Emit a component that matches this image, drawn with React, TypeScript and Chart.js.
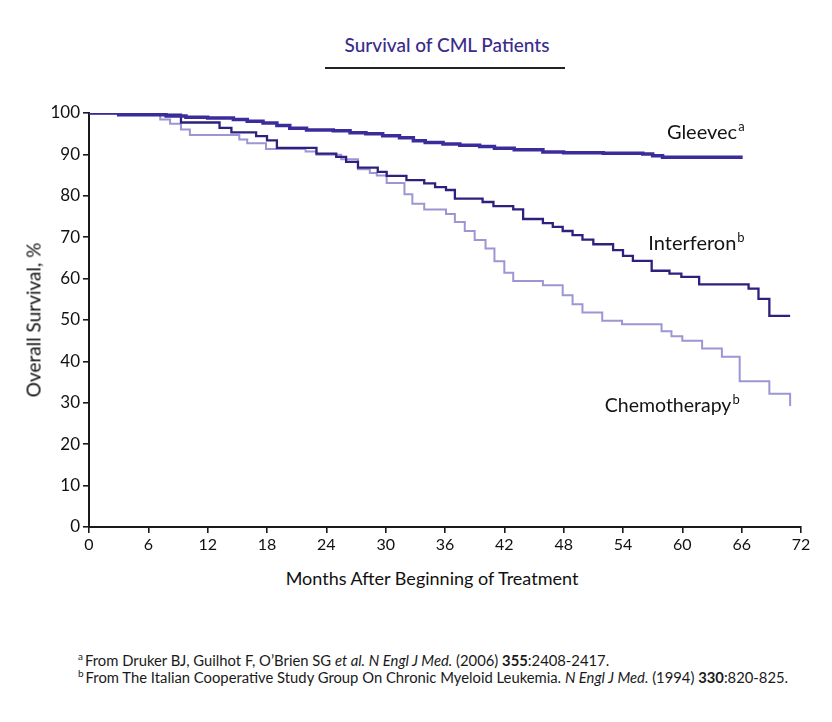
import React, { useEffect, useRef } from 'react';
import { Chart, registerables } from 'chart.js';

Chart.register(...registerables);

// ---- data ----
const chartTitle = 'Survival of CML Patients';
const xAxisTitle = 'Months After Beginning of Treatment';
const yAxisTitle = 'Overall Survival, %';
const xTickValues = [0, 6, 12, 18, 24, 30, 36, 42, 48, 54, 60, 66, 72];
const yTickValues = [0, 10, 20, 30, 40, 50, 60, 70, 80, 90, 100];
const seriesNames = ['Gleevec', 'Interferon', 'Chemotherapy'];
const seriesNotes = ['a', 'b', 'b'];

const gleevecMonths = [0, 3, 7.8, 9.8, 12, 14.6, 16, 17.6, 19, 20.3, 22, 24.7, 26.4, 28, 29.7, 31.4, 32.8, 34, 35.8, 37.5, 39.5, 41, 43, 45.9, 48, 52, 56, 57, 58, 66.1];
const gleevecSurvival = [100, 99.6, 99.3, 99.0, 98.8, 98.4, 98.0, 97.6, 97.0, 96.3, 95.9, 95.7, 95.2, 95.0, 94.5, 94.0, 93.3, 92.9, 92.5, 92.2, 91.9, 91.5, 91.1, 90.6, 90.4, 90.3, 90.1, 89.7, 89.3, 89.3];

const interferonMonths = [0, 3, 9.3, 13.2, 14.4, 16.9, 18, 19, 23, 25, 26, 27.2, 29.2, 30.1, 32.1, 33.9, 35, 36.1, 37, 39.8, 40.9, 42.9, 43.9, 45.9, 46.9, 47.9, 48.9, 49.9, 51, 53, 54, 55, 56.9, 58.7, 59.9, 61.7, 66.7, 67.7, 68.8, 70.9];
const interferonSurvival = [100, 99.6, 97.7, 96.4, 95.3, 94.4, 93.4, 91.6, 90.2, 89.4, 88.2, 86.8, 85.8, 84.8, 83.8, 83.0, 82.1, 81.4, 79.3, 78.5, 77.5, 76.7, 74.4, 73.4, 72.5, 71.5, 70.5, 69.4, 68.3, 66.9, 65.5, 64.3, 61.9, 61.2, 60.4, 58.6, 57.6, 55.1, 51.0, 51.0];

const chemoMonths = [0, 3, 7.2, 8.2, 9.3, 10.2, 15.2, 16, 17.9, 21.9, 23, 25.5, 27.2, 28.4, 29.1, 30.1, 31.9, 32.7, 33.9, 36.1, 37, 38, 39, 40.1, 41, 42, 42.9, 45.9, 47.9, 48.9, 49.9, 51.9, 53.9, 57.9, 58.9, 60, 62, 64, 65.8, 68.8, 70.9, 70.9];
const chemoSurvival = [100, 99.6, 98.4, 97.4, 96.0, 94.7, 93.6, 92.7, 91.3, 90.7, 89.9, 88.8, 86.4, 85.5, 84.9, 83.1, 80.4, 78.1, 76.7, 75.6, 73.7, 71.5, 69.3, 67.3, 64.2, 61.4, 59.4, 58.4, 56.0, 53.8, 51.8, 49.8, 49.0, 47.3, 46.1, 45.0, 43.1, 41.1, 35.2, 32.2, 32.2, 29.2];

const toPoints = (xs: number[], ys: number[]) => xs.map((x, i) => ({ x, y: ys[i] }));

const FONT = 'Lato, "Open Sans", sans-serif';

export default function App() {
  const canvasRef = useRef<HTMLCanvasElement | null>(null);

  useEffect(() => {
    document.body.style.margin = '0';
    document.body.style.background = '#ffffff';
    const canvas = canvasRef.current;
    if (!canvas) return;

    const labelAnchors = [
      { x: 66.3, y: 93.6, size: 20 },
      { x: 66.3, y: 67.0, size: 20 },
      { x: 65.8, y: 27.7, size: 19.5 },
    ];

    const labelPlugin = {
      id: 'seriesLabels',
      afterDatasetsDraw(chart: any) {
        const { ctx, scales } = chart;
        const xs = scales.x;
        const ys = scales.y;
        ctx.save();
        ctx.fillStyle = '#141414';
        ctx.textBaseline = 'alphabetic';
        seriesNames.forEach((name, i) => {
          const a = labelAnchors[i];
          const ax = xs.getPixelForValue(a.x);
          const ay = ys.getPixelForValue(a.y);
          ctx.font = `${a.size}px ${FONT}`;
          const w1 = ctx.measureText(name).width;
          ctx.font = `13px ${FONT}`;
          const w2 = ctx.measureText(seriesNotes[i]).width;
          const start = ax - w1 - w2 - 1;
          ctx.font = `${a.size}px ${FONT}`;
          ctx.textAlign = 'left';
          ctx.fillText(name, start, ay);
          ctx.font = `13px ${FONT}`;
          ctx.fillText(seriesNotes[i], start + w1 + 1, ay - 8);
        });
        ctx.restore();
      },
    };

    const chart = new Chart(canvas, {
      type: 'line',
      data: {
        datasets: [
          {
            label: seriesNames[0],
            data: toPoints(gleevecMonths, gleevecSurvival),
            borderColor: '#3b2c9c',
            borderWidth: 3.5,
            stepped: 'before',
            pointRadius: 0,
            fill: false,
          },
          {
            label: seriesNames[1],
            data: toPoints(interferonMonths, interferonSurvival),
            borderColor: '#2d207e',
            borderWidth: 2.3,
            stepped: 'before',
            pointRadius: 0,
            fill: false,
          },
          {
            label: seriesNames[2],
            data: toPoints(chemoMonths, chemoSurvival),
            borderColor: '#9c96d4',
            borderWidth: 2,
            stepped: 'before',
            pointRadius: 0,
            fill: false,
          },
        ],
      },
      options: {
        animation: false,
        responsive: false,
        maintainAspectRatio: false,
        layout: { padding: { left: 0, right: 31, top: 113, bottom: 0 } },
        plugins: {
          legend: { display: false },
          tooltip: { enabled: false },
          title: { display: false },
        },
        scales: {
          x: {
            type: 'linear',
            min: 0,
            max: 72,
            afterBuildTicks: (axis: any) => {
              axis.ticks = xTickValues.map((v) => ({ value: v }));
            },
            afterFit: (axis: any) => {
              axis.height = 40;
            },
            grid: { drawOnChartArea: false, drawTicks: true, tickLength: 6, color: '#1a1a1a', lineWidth: 1.6 },
            border: { display: true, color: '#1a1a1a', width: 2 },
            ticks: { color: '#111', font: { family: FONT, size: 16 }, padding: 2, maxRotation: 0, autoSkip: false },
          },
          y: {
            type: 'linear',
            min: 0,
            max: 100,
            afterBuildTicks: (axis: any) => {
              axis.ticks = yTickValues.map((v) => ({ value: v }));
            },
            afterFit: (axis: any) => {
              axis.width = 89;
            },
            grid: { drawOnChartArea: false, drawTicks: true, tickLength: 6, color: '#1a1a1a', lineWidth: 1.6 },
            border: { display: true, color: '#1a1a1a', width: 2 },
            ticks: { color: '#111', font: { family: FONT, size: 17 }, padding: 3, autoSkip: false },
          },
        },
      },
      plugins: [labelPlugin],
    } as any);

    return () => chart.destroy();
  }, []);

  const footStyle: React.CSSProperties = {
    position: 'absolute',
    left: 78,
    fontFamily: FONT,
    fontSize: 14.8,
    color: '#1a1a1a',
    whiteSpace: 'nowrap',
    lineHeight: '17px',
  };
  const sup: React.CSSProperties = { fontSize: 10, verticalAlign: 'super', marginRight: 2, lineHeight: 0 };

  return (
    <div style={{ position: 'relative', width: 832, height: 722, background: '#fff', overflow: 'hidden' }}>
      <div
        style={{
          position: 'absolute',
          left: 0,
          width: 894,
          top: 33,
          textAlign: 'center',
          fontFamily: FONT,
          fontSize: 19,
          fontWeight: 500,
          color: '#3a2c8a',
        }}
      >
        {chartTitle}
      </div>
      <div style={{ position: 'absolute', left: 325, top: 67, width: 240, height: 1.5, background: '#222' }} />
      <canvas ref={canvasRef} width={832} height={567} style={{ position: 'absolute', left: 0, top: 0, width: 832, height: 567 }} />
      <div
        style={{
          position: 'absolute',
          left: 33,
          top: 320,
          transform: 'translate(-50%, -50%) rotate(-90deg)',
          fontFamily: FONT,
          fontSize: 19,
          color: '#111',
          whiteSpace: 'nowrap',
        }}
      >
        {yAxisTitle}
      </div>
      <div
        style={{
          position: 'absolute',
          left: 432,
          top: 578,
          transform: 'translate(-50%, -50%)',
          fontFamily: FONT,
          fontSize: 18,
          color: '#111',
          whiteSpace: 'nowrap',
        }}
      >
        {xAxisTitle}
      </div>
      <div style={{ ...footStyle, top: 652 }}>
        <span style={sup}>a</span>From Druker BJ, Guilhot F, O’Brien SG <i>et al.</i> <i>N Engl J Med.</i> (2006) <b>355</b>:2408-2417.
      </div>
      <div style={{ ...footStyle, top: 669 }}>
        <span style={sup}>b</span>From The Italian Cooperative Study Group On Chronic Myeloid Leukemia. <i>N Engl J Med.</i> (1994) <b>330</b>:820-825.
      </div>
    </div>
  );
}
